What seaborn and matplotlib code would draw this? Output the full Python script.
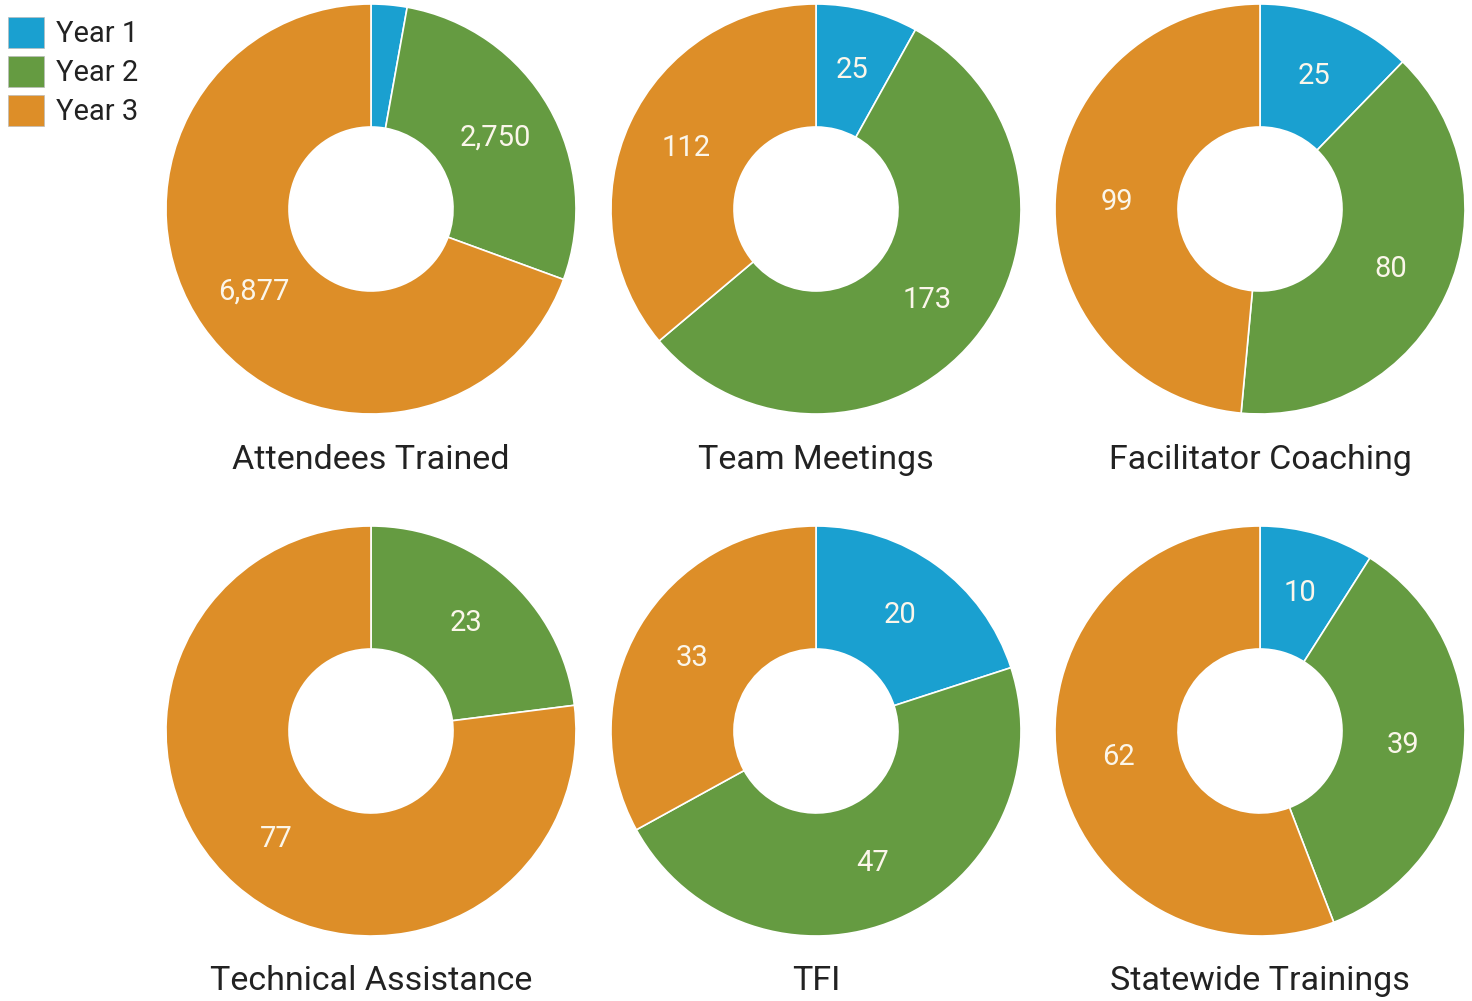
"""Six donut charts comparing year-over-year activity counts."""

import matplotlib.pyplot as plt
import seaborn as sns
from matplotlib.patches import Patch

# Data
YEARS = ["Year 1", "Year 2", "Year 3"]
TITLES = [
    "Attendees Trained",
    "Team Meetings",
    "Facilitator Coaching",
    "Technical Assistance",
    "TFI",
    "Statewide Trainings",
]
YEAR1 = [280, 25, 25, 0, 20, 10]
YEAR2 = [2750, 173, 80, 23, 47, 39]
YEAR3 = [6877, 112, 99, 77, 33, 62]

COLORS = ["#1aa0d0", "#659b41", "#dd8e28"]
LABEL_COLOR = "#fbf6ea"
TEXT_COLOR = "#222222"

W, H = 1472, 1001
RADIUS_PX = 205
CENTERS_X = [371, 816, 1260]
CENTERS_Y = [209, 731]
TITLE_BASELINE = [469, 990]


def make_autopct(values):
    total = sum(values)

    def fmt(pct):
        if pct < 5:
            return ""
        return f"{round(pct * total / 100):,}"

    return fmt


def main() -> None:
    sns.set_theme(style="white")
    plt.rcParams["font.family"] = ["Roboto", "DejaVu Sans"]
    palette = sns.color_palette(COLORS)

    fig = plt.figure(figsize=(W / 100, H / 100), dpi=100)

    for i, title in enumerate(TITLES):
        row, col = divmod(i, 3)
        cx, cy = CENTERS_X[col], CENTERS_Y[row]
        ax = fig.add_axes([
            (cx - RADIUS_PX) / W,
            1 - (cy + RADIUS_PX) / H,
            2 * RADIUS_PX / W,
            2 * RADIUS_PX / H,
        ])
        values = [YEAR1[i], YEAR2[i], YEAR3[i]]
        _, _, autotexts = ax.pie(
            values,
            colors=palette,
            startangle=90,
            counterclock=False,
            radius=1.0,
            autopct=make_autopct(values),
            pctdistance=0.7,
            wedgeprops=dict(width=0.6, edgecolor="white", linewidth=1.2),
        )
        for t in autotexts:
            t.set_color(LABEL_COLOR)
            t.set_fontsize(21)
        ax.set_xlim(-1.0, 1.0)
        ax.set_ylim(-1.0, 1.0)
        ax.set_aspect("equal")
        ax.axis("off")
        fig.text(cx / W, 1 - TITLE_BASELINE[row] / H, title, ha="center",
                 va="baseline", fontsize=24.5, color=TEXT_COLOR)

    handles = [Patch(facecolor=c, edgecolor="#bbbbbb", linewidth=0.5) for c in palette]
    fig.legend(
        handles,
        YEARS,
        loc="upper left",
        bbox_to_anchor=(8 / W, 1 - 17 / H),
        frameon=False,
        fontsize=21,
        handlelength=1.25,
        handleheight=1.25,
        handletextpad=0.4,
        labelspacing=0.27,
        borderpad=0.0,
        borderaxespad=0.0,
        labelcolor=TEXT_COLOR,
    )

    fig.savefig("out.png", dpi=100)
    plt.close(fig)


if __name__ == "__main__":
    main()
